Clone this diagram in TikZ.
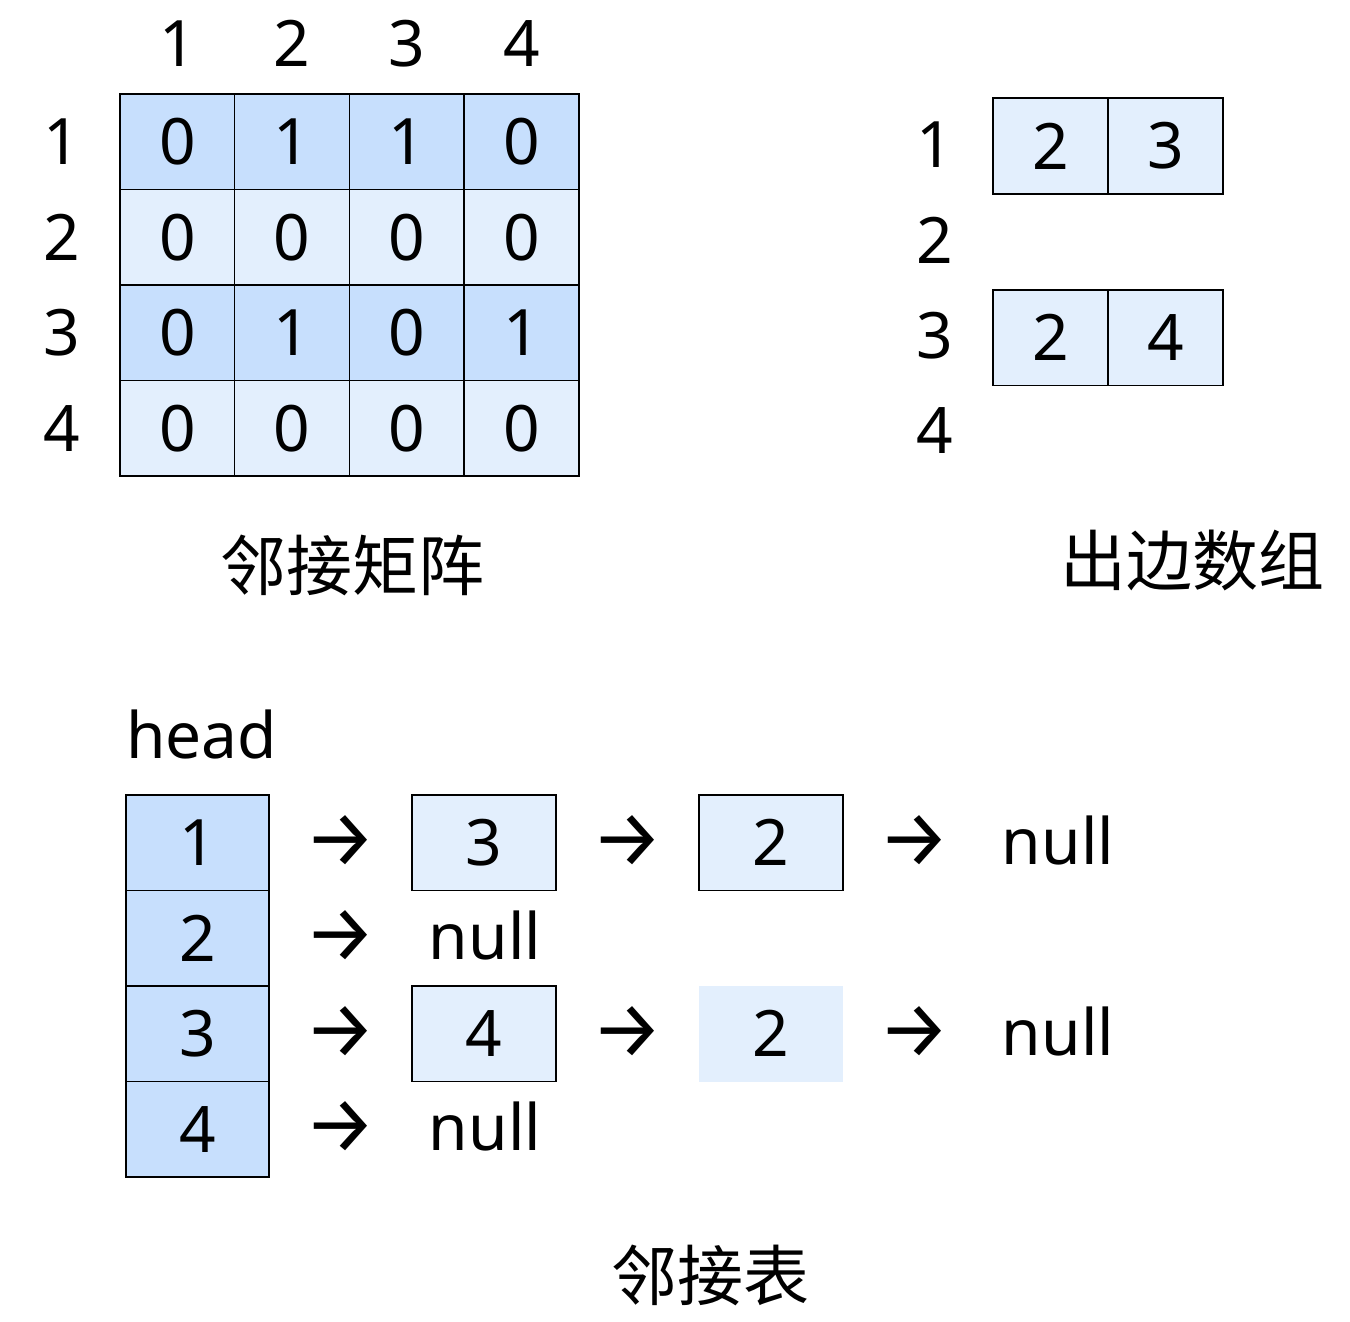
\documentclass[tikz,border=0pt]{standalone}
\usepackage{fontspec}
\setmainfont{Noto Sans}
\newfontfamily\cjk{Noto Sans CJK SC}
\newfontfamily\arrowfont{Fira Sans}
\usetikzlibrary{positioning}

\definecolor{celldark}{RGB}{199,223,253}
\definecolor{celllight}{RGB}{227,239,253}

\tikzset{
  big/.style={font=\fontsize{64}{64}\selectfont, inner sep=0pt},
  arrowtext/.style={font=\fontsize{80}{80}\selectfont\arrowfont, inner sep=0pt},
  caption/.style={font=\fontsize{66}{66}\selectfont\cjk, inner sep=0pt},
  cellbox/.style={big, draw, line width=1.5pt, minimum width=114.75pt, minimum height=95.5pt},
  listbox/.style={big, draw, line width=1.5pt, fill=celllight, minimum width=144pt, minimum height=95.5pt},
}

\begin{document}
\begin{tikzpicture}[x=1pt, y=-1pt]
  \useasboundingbox (0,0) rectangle (1350,1322);

  % adjacency matrix
  \foreach \c in {1,...,4}
    \node[big] (col\c) at ({120+114.75*(\c-0.5)}, 43.5) {\c};
  \foreach \r/\fc/\a/\b/\cc/\d in {1/celldark/0/1/1/0, 2/celllight/0/0/0/0,
                                   3/celldark/0/1/0/1, 4/celllight/0/0/0/0} {
    \node[big] (row\r) at (62, {94+95.5*(\r-0.5)}) {\r};
    \node[cellbox, fill=\fc] (m\r1) at (177.4, {94+95.5*(\r-0.5)}) {\a};
    \node[cellbox, fill=\fc] (m\r2) at (292.1, {94+95.5*(\r-0.5)}) {\b};
    \node[cellbox, fill=\fc] (m\r3) at (406.9, {94+95.5*(\r-0.5)}) {\cc};
    \node[cellbox, fill=\fc] (m\r4) at (521.6, {94+95.5*(\r-0.5)}) {\d};
  }
  \node[caption] (capM) at (352,565) {邻接矩阵};

  % out-edge arrays
  \foreach \r/\y in {1/145, 2/240, 3/336, 4/431}
    \node[big] (out\r) at (935,\y) {\r};
  \node[cellbox, fill=celllight] (o11) at (1050.5,146) {2};
  \node[cellbox, fill=celllight] (o12) at (1165.5,146) {3};
  \node[cellbox, fill=celllight] (o31) at (1050.5,337.5) {2};
  \node[cellbox, fill=celllight] (o32) at (1165.5,337.5) {4};
  \node[caption] (capO) at (1192,560) {出边数组};

  % adjacency list
  \node[big, anchor=base west] (head) at (126,758) {head};
  \foreach \r in {1,...,4} {
    \node[cellbox, fill=celldark, minimum width=143pt] (h\r) at (197.5, {795+95.5*(\r-0.5)}) {\r};
    \node[arrowtext] (a\r) at (340, {793+95.5*(\r-0.5)}) {→};
  }
  \node[listbox] (l11) at (484,842.75) {3};
  \node[arrowtext] (b1) at (627,840.75) {→};
  \node[listbox] (l12) at (771,842.75) {2};
  \node[arrowtext] (c1) at (914,840.75) {→};
  \node[big, anchor=base] (n1) at (1058,864) {null};

  \node[big, anchor=base] (n2) at (485,959.5) {null};

  \node[listbox] (l31) at (484,1033.75) {4};
  \node[arrowtext] (b3) at (627,1031.75) {→};
  \node[listbox, draw=none] (l32) at (771,1033.75) {2};
  \node[arrowtext] (c3) at (914,1031.75) {→};
  \node[big, anchor=base] (n3) at (1058,1055) {null};

  \node[big, anchor=base] (n4) at (485,1150.5) {null};
  \node[caption] (capL) at (710,1275) {邻接表};
\end{tikzpicture}
\end{document}
